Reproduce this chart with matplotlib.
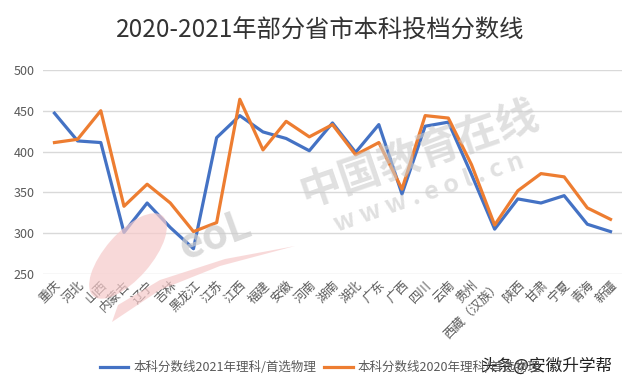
import numpy as np
import matplotlib
matplotlib.use("Agg")
from matplotlib import pyplot as plt
from matplotlib.patches import Polygon, Ellipse

plt.rcParams['font.family'] = ['Noto Sans CJK SC', 'DejaVu Sans']

#data
provinces = ['重庆', '河北', '山西', '内蒙古', '辽宁', '吉林', '黑龙江', '江苏', '江西', '福建',
             '安徽', '河南', '湖南', '湖北', '广东', '广西', '四川', '云南', '贵州', '西藏（汉族）',
             '陕西', '甘肃', '宁夏', '青海', '新疆']
score_2021 = [447, 413, 411, 301, 337, 307, 281, 417, 444, 424,
              416, 401, 435, 399, 433, 348, 431, 436, 372, 305,
              342, 337, 346, 311, 302]
score_2020 = [411, 415, 450, 333, 360, 337, 302, 313, 464, 402,
              437, 418, 433, 396, 411, 354, 444, 441, 384, 310,
              352, 373, 369, 331, 317]
label_2021 = '本科分数线2021年理科/首选物理'
label_2020 = '本科分数线2020年理科/首选物理'
yticks = [250, 300, 350, 400, 450, 500]

blue = '#4472C4'
orange = '#ED7D31'
gray = '#595959'
W, H = 640, 386

fig = plt.figure(figsize=(6.4, 3.86), dpi=100)
ax = fig.add_axes([0.067, 0.290, 0.905, 0.529])

x = np.arange(len(provinces))
ax.plot(x, score_2021, color=blue, lw=2.3, label=label_2021, zorder=3)
ax.plot(x, score_2020, color=orange, lw=2.3, label=label_2020, zorder=3)

ax.set_xlim(-0.5, len(provinces) - 0.5)
ax.set_ylim(250, 500)
ax.set_yticks(yticks)
ax.grid(axis='y', color='#D9D9D9', lw=1)
ax.set_axisbelow(True)
ax.patch.set_alpha(0)
for s in ax.spines.values():
	s.set_visible(False)
ax.tick_params(axis='both', length=0, colors=gray, labelsize=9)
ax.tick_params(axis='y', pad=6)
ax.set_xticks(x)
ax.set_xticklabels(provinces, rotation=45, ha='right', rotation_mode='anchor')

#watermark: pink swoosh of the eol logo (pixel positions, y from top)
def inch(a, b):
	return (a / 100, (H - b) / 100)
fig.patches.append(Ellipse(inch(128, 256), 1.06, 0.46, angle=49, transform=fig.dpi_scale_trans,
                           facecolor='#f6caca', edgecolor='none', alpha=0.7, zorder=0))
blade = [inch(a, b) for a, b in [(112, 322), (160, 290), (220, 266), (295, 246),
                                 (225, 259), (160, 280), (118, 305)]]
fig.patches.append(Polygon(blade, closed=True, transform=fig.dpi_scale_trans,
                           facecolor='#f6caca', edgecolor='none', alpha=0.7, zorder=0))

fig.text(0.655, 0.60, '中国教育在线', fontsize=30, fontweight='bold', color='#cccccc',
         alpha=0.6, rotation=19, ha='center', va='center', zorder=0)
fig.text(0.67, 0.50, 'w w w . e o l . c n', fontsize=18, fontweight='bold', color='#cccccc',
         alpha=0.6, rotation=19, ha='center', va='center', zorder=0)
fig.text(0.335, 0.39, 'eoL', fontsize=30, fontweight='bold', style='italic', color='#cccccc',
         alpha=0.7, rotation=20, ha='center', va='center', zorder=0)

fig.suptitle('2020-2021年部分省市本科投档分数线', x=0.50, y=0.955, fontsize=17.5, color='#333333')

fig.legend(loc='center', bbox_to_anchor=(0.5, 0.048), ncol=2, frameon=False,
           fontsize=9, labelcolor=gray, handlelength=2.3, columnspacing=0.6, handletextpad=0.4)

fig.text(0.957, 0.052, '头条@安徽升学帮', fontsize=12, color='#222222', ha='right', va='center',
         bbox=dict(facecolor='white', edgecolor='none', pad=1, alpha=0.85))

fig.savefig('out.png', dpi=100)
